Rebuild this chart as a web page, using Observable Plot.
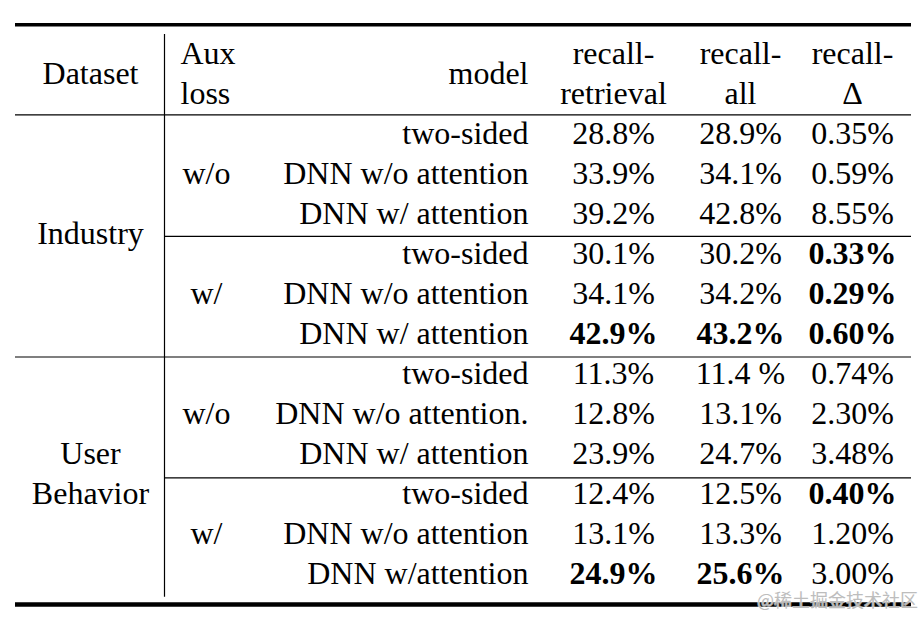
<!DOCTYPE html>
<html><head><meta charset="utf-8">
<script src="https://cdn.jsdelivr.net/npm/d3@7"></script>
<script src="https://cdn.jsdelivr.net/npm/@observablehq/plot@0.6"></script>
<style>html,body{margin:0;padding:0;background:#fff;} svg{display:block}</style>
</head><body><div id="chart"></div>
<script>
// ---- data ----
const headers = ["Dataset", "Aux\nloss", "model", "recall-\nretrieval", "recall-\nall", "recall-\nΔ"];
const datasets = ["Industry", "User\nBehavior"];
const auxLoss = ["w/o", "w/", "w/o", "w/"];
const models = ["two-sided", "DNN w/o attention", "DNN w/ attention",
                "two-sided", "DNN w/o attention", "DNN w/ attention",
                "two-sided", "DNN w/o attention.", "DNN w/ attention",
                "two-sided", "DNN w/o attention", "DNN w/attention"];
const recallRetrieval = ["28.8%", "33.9%", "39.2%", "30.1%", "34.1%", "42.9%",
                         "11.3%", "12.8%", "23.9%", "12.4%", "13.1%", "24.9%"];
const recallAll = ["28.9%", "34.1%", "42.8%", "30.2%", "34.2%", "43.2%",
                   "11.4 %", "13.1%", "24.7%", "12.5%", "13.3%", "25.6%"];
const recallDelta = ["0.35%", "0.59%", "8.55%", "0.33%", "0.29%", "0.60%",
                     "0.74%", "2.30%", "3.48%", "0.40%", "1.20%", "3.00%"];
const boldRetrieval = [5, 11];
const boldAll = [5, 11];
const boldDelta = [3, 4, 5, 9];
const watermark = "@稀土掘金技术社区";

// ---- layout (positions / styles) ----
const W = 924, H = 617, ROW = 40, ROW0 = 133.5;
const FONT = "'Liberation Serif', 'Times New Roman', serif";
const FS = 32;
const col = {dataset: 90, aux: 206, auxHead: 180, model: 528, retrieval: 613, all: 740, delta: 852};
const left = 15, right = 911, vline = 164;
const hRules = [
  {y: -2.73, x1: left, x2: right, w: 3.5},
  {y: -0.48, x1: left, x2: right, w: 1.2},
  {y: 2.56, x1: vline, x2: right, w: 1.2},
  {y: 5.575, x1: left, x2: right, w: 1.2},
  {y: 8.595, x1: vline, x2: right, w: 1.2},
  {y: 11.76, x1: left, x2: right, w: 4.5}
];

const rows = models.map((m, i) => ({
  row: i, model: m, retrieval: recallRetrieval[i], all: recallAll[i], delta: recallDelta[i]
}));
const headerRows = headers.map((h, i) => ({
  text: h,
  x: [col.dataset, col.auxHead, col.model, col.retrieval, col.all, col.delta][i],
  anchor: i === 1 ? "start" : i === 2 ? "end" : "middle"
}));
const datasetRows = datasets.map((d, i) => ({text: d, row: i * 6 + 2.5}));
const auxRows = auxLoss.map((a, i) => ({text: a, row: i * 3 + 1}));

const txt = {fontFamily: FONT, fontSize: FS, lineHeight: ROW / FS, fill: "black", lineAnchor: "middle", dy: -3};

function numCol(key, boldIdx) {
  return [
    Plot.text(rows.filter(r => !boldIdx.includes(r.row)), {...txt, x: col[key], y: "row", text: key, textAnchor: "middle"}),
    Plot.text(rows.filter(r => boldIdx.includes(r.row)), {...txt, x: col[key], y: "row", text: key, textAnchor: "middle", fontWeight: "bold"})
  ];
}

const chart = Plot.plot({
  width: W, height: H,
  margin: 0,
  x: {type: "linear", domain: [0, W], range: [0, W], axis: null},
  y: {type: "linear", domain: [-ROW0 / ROW, (H - ROW0) / ROW], range: [0, H], axis: null},
  style: {background: "white", fontFamily: FONT},
  marks: [
    Plot.ruleY(hRules, {y: "y", x1: "x1", x2: "x2", strokeWidth: "w", stroke: "black"}),
    Plot.ruleX([vline], {y1: -2.49, y2: 11.58, stroke: "black", strokeWidth: 1.2}),
    // header
    Plot.text(headerRows.filter(d => d.anchor === "middle"), {...txt, x: "x", y: -1.5, text: "text", textAnchor: "middle"}),
    Plot.text(headerRows.filter(d => d.anchor === "start"), {...txt, x: "x", y: -1.5, text: "text", textAnchor: "start"}),
    Plot.text(headerRows.filter(d => d.anchor === "end"), {...txt, x: "x", y: -1.5, text: "text", textAnchor: "end"}),
    // group labels
    Plot.text(datasetRows, {...txt, x: col.dataset, y: "row", text: "text", textAnchor: "middle"}),
    Plot.text(auxRows, {...txt, x: col.aux, y: "row", text: "text", textAnchor: "middle"}),
    // body
    Plot.text(rows, {...txt, x: col.model, y: "row", text: "model", textAnchor: "end"}),
    ...numCol("retrieval", boldRetrieval),
    ...numCol("all", boldAll),
    ...numCol("delta", boldDelta),
    // watermark
    Plot.text([watermark], {x: 837, y: (601 - ROW0) / ROW, text: d => d, fontFamily: "'Noto Sans CJK SC', sans-serif",
      fontSize: 18, fill: "#bdbdbd", stroke: "white", strokeWidth: 1.5, strokeOpacity: 0.6, textAnchor: "middle", lineAnchor: "middle"})
  ]
});
document.getElementById("chart").appendChild(chart);
</script>
</body></html>
